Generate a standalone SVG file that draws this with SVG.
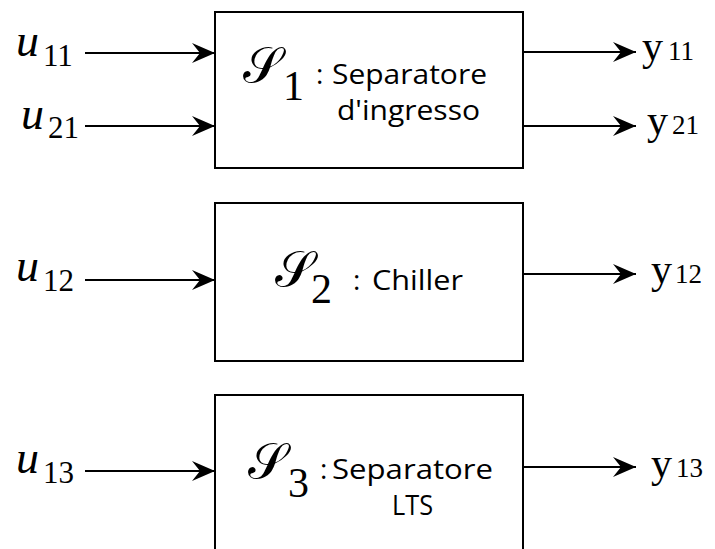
<svg xmlns="http://www.w3.org/2000/svg" width="715" height="549" viewBox="0 0 715 549">
<style>
.box{fill:#fff;stroke:#000;stroke-width:2}
.ln{stroke:#000;stroke-width:2;fill:none;marker-end:url(#ah)}
.u{font-family:"Liberation Serif",serif;font-style:italic;font-size:46px;fill:#000}
.sub{font-family:"Liberation Serif",serif;font-size:31px;fill:#000}
.y{font-family:"Liberation Serif",serif;font-size:42px;fill:#000}
.ysub{font-family:"Liberation Serif",serif;font-size:27px;fill:#000}
.S{font-family:"DejaVu Serif","Liberation Serif",serif;font-size:50px;fill:#000}
.Ssub{font-family:"Liberation Serif",serif;font-size:42px;fill:#000}
.t{font-family:"Open Sans","Liberation Sans",sans-serif;font-size:28px;fill:#000}
</style>
<defs>
<marker id="ah" markerUnits="userSpaceOnUse" markerWidth="26" markerHeight="24" viewBox="-24 -12 26 24" refX="0" refY="0" orient="auto">
<path d="M0,0 L-23,-10 L-15,0 L-23,10 Z" fill="#000"/>
</marker>
</defs>
<g id="connectors">
<line class="ln" x1="85" y1="53" x2="215" y2="53"/>
<line class="ln" x1="85" y1="126" x2="215" y2="126"/>
<line class="ln" x1="523" y1="52" x2="636" y2="52"/>
<line class="ln" x1="523" y1="126" x2="636" y2="126"/>
<line class="ln" x1="85" y1="280" x2="215" y2="280"/>
<line class="ln" x1="523" y1="274" x2="636" y2="274"/>
<line class="ln" x1="85" y1="471" x2="215" y2="471"/>
<line class="ln" x1="523" y1="467" x2="636" y2="467"/>
</g>
<g id="S1">
<rect class="box" x="215" y="12" width="308" height="156"/>
<text class="S" x="243" y="82">𝒮</text>
<text class="Ssub" x="283" y="100">1</text>
<text class="t" x="316" y="84">:</text>
<text class="t" x="332" y="84" textLength="155" lengthAdjust="spacingAndGlyphs">Separatore</text>
<text class="t" x="337" y="120" textLength="143" lengthAdjust="spacingAndGlyphs">d'ingresso</text>
</g>
<g id="S2">
<rect class="box" x="215" y="203" width="308" height="158"/>
<text class="S" x="275" y="286">𝒮</text>
<text class="Ssub" x="311" y="303">2</text>
<text class="t" x="353" y="290">:</text>
<text class="t" x="372" y="290" textLength="91" lengthAdjust="spacingAndGlyphs">Chiller</text>
</g>
<g id="S3">
<rect class="box" x="215" y="395" width="308" height="170"/>
<text class="S" x="248" y="478">𝒮</text>
<text class="Ssub" x="288" y="497">3</text>
<text class="t" x="320" y="479">:</text>
<text class="t" x="332" y="479" textLength="161" lengthAdjust="spacingAndGlyphs">Separatore</text>
<text class="t" x="392" y="515" textLength="41" lengthAdjust="spacingAndGlyphs">LTS</text>
</g>
<g id="inputs">
<text class="u" x="16" y="56">u</text><text class="sub" x="43" y="66">11</text>
<text class="u" x="21" y="129">u</text><text class="sub" x="48" y="138">21</text>
<text class="u" x="16" y="281">u</text><text class="sub" x="43" y="291">12</text>
<text class="u" x="16" y="473">u</text><text class="sub" x="43" y="483">13</text>
</g>
<g id="outputs">
<text class="y" x="642" y="60">y</text><text class="ysub" x="668" y="60">11</text>
<text class="y" x="647" y="134">y</text><text class="ysub" x="672" y="134">21</text>
<text class="y" x="651" y="283">y</text><text class="ysub" x="675" y="283">12</text>
<text class="y" x="651" y="477">y</text><text class="ysub" x="676" y="477">13</text>
</g>
</svg>
